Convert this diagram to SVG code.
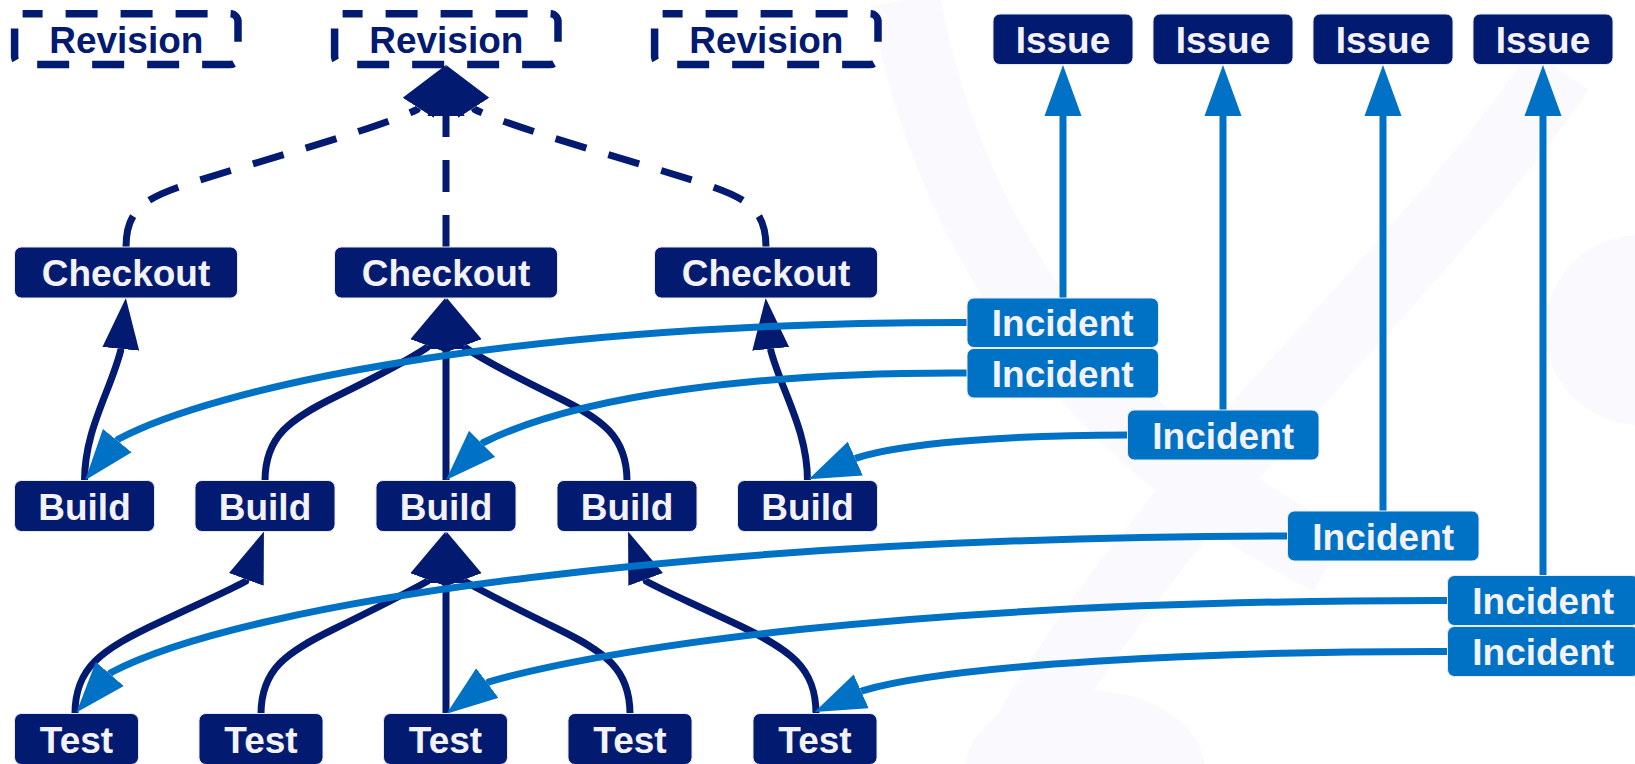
<svg xmlns="http://www.w3.org/2000/svg" width="1635" height="764" viewBox="0 0 1635 764">
<style>
  .nv{fill:#021b71;}
  .bl{fill:#0072c6;}
  .nd{stroke:#e9eaf3;stroke-width:1;}
  .t{font-family:"Liberation Sans",Arial,Helvetica,sans-serif;font-weight:bold;font-size:37px;fill:#f2f2f7;text-anchor:middle;}
  .rt{font-family:"Liberation Sans",Arial,Helvetica,sans-serif;font-weight:bold;font-size:37px;fill:#021b71;text-anchor:middle;}
  .rev{fill:#ffffff;stroke:#021b71;stroke-width:7.5;stroke-dasharray:32 23;stroke-dashoffset:12;}
  .e{fill:none;stroke:#021b71;stroke-width:7;marker-end:url(#ahn);}
  .d{fill:none;stroke:#021b71;stroke-width:7;stroke-dasharray:32 23;marker-end:url(#ahn);}
  .b{fill:none;stroke:#0072c6;stroke-width:7;marker-end:url(#ahb);}
  .wm{fill:none;stroke:#fafafe;stroke-width:70;}
</style>
<defs>
  <marker id="ahn" markerUnits="userSpaceOnUse" markerWidth="52" markerHeight="38" viewBox="0 0 52 38" refX="0" refY="19" orient="auto">
    <path d="M0,0.5 L51,19 L0,37.5 Z" fill="#021b71"/>
  </marker>
  <marker id="ahb" markerUnits="userSpaceOnUse" markerWidth="52" markerHeight="38" viewBox="0 0 52 38" refX="0" refY="19" orient="auto">
    <path d="M0,0.5 L51,19 L0,37.5 Z" fill="#0072c6"/>
  </marker>
</defs>
<rect width="1635" height="764" fill="#ffffff"/>
<g id="watermark">
  <path class="wm" d="M905,0 C950,240 1090,440 1330,560"/>
  <path class="wm" d="M1560,70 C1400,300 1150,500 1010,764"/>
  <circle cx="1640" cy="330" r="95" fill="#fafafe"/>
  <ellipse cx="1085" cy="770" rx="120" ry="80" fill="#fafafe"/>
</g>
<g id="connectors">
  <path class="d" d="M126,247 C126,205 150,196 200,180 S380,128 417.1,109.5 L418.2,107.8"/>
  <path class="d" d="M446,247 L446,116"/>
  <path class="d" d="M766,247 C766,205 742,196 692,180 S512,128 474.9,109.5 L473.8,107.8"/>
  <path class="e" d="M84.5,481 C84.5,430 110,392 120.6,350.8 L120.8,348.8"/>
  <path class="e" d="M265,481 C265,436 290,419 337,396 S410,359 427,347.5 L427.7,345.6"/>
  <path class="e" d="M446,481 L446,349"/>
  <path class="e" d="M627,481 C627,436 602,419 555,396 S482,359 465,347.5 L464.3,345.6"/>
  <path class="e" d="M807.5,481 C807.5,430 782,392 770.9,350.8 L770.7,348.8"/>
  <path class="e" d="M75,714 C75,668 100,650 160,622 S230,590 245.6,581.3 L246.3,579.4"/>
  <path class="e" d="M261,714 C261,669 287,652 334,629 S408,592 427,581.5 L427.7,579.6"/>
  <path class="e" d="M446,714 L446,583"/>
  <path class="e" d="M630,714 C630,669 605,652 558,629 S484,592 465,581.5 L464.3,579.6"/>
  <path class="e" d="M816,714 C816,668 792,650 732,622 S662,590 646.4,581.3 L645.7,579.4"/>
  <path class="b" d="M1063,298 L1063,116"/>
  <path class="b" d="M1223,410 L1223,116"/>
  <path class="b" d="M1383,511 L1383,116"/>
  <path class="b" d="M1543,575.5 L1543,116"/>
  <path class="b" d="M967,322.5 C500,322 210,390 118.6,439 L117.3,440.6"/>
  <path class="b" d="M967,373 C760,372 580,395 483.5,442.5 L482.1,443.9"/>
  <path class="b" d="M1127.5,435 C1000,435 900,444 857.1,457.8 L855.3,458.6"/>
  <path class="b" d="M1287.5,536 C700,537 250,600 111.1,672.5 L109.8,674"/>
  <path class="b" d="M1447.5,600.5 C900,600 600,650 488.9,681.9 L487.3,683.1"/>
  <path class="b" d="M1447.5,651.5 C1200,651 950,665 863,690.6 L861.2,691.4"/>
</g>
<g id="revision1"><rect class="rev" x="14.6" y="13.7" width="223.4" height="50.8" rx="8"/><text class="rt" x="126.3" y="52.5">Revision</text></g>
<g id="revision2"><rect class="rev" x="334.6" y="13.7" width="223.4" height="50.8" rx="8"/><text class="rt" x="446.3" y="52.5">Revision</text></g>
<g id="revision3"><rect class="rev" x="654.6" y="13.7" width="223.4" height="50.8" rx="8"/><text class="rt" x="766.3" y="52.5">Revision</text></g>

<g id="checkout1"><rect class="nv nd" x="14.5" y="247" width="223" height="51" rx="7"/><text class="t" x="126" y="286">Checkout</text></g>
<g id="checkout2"><rect class="nv nd" x="334.5" y="247" width="223" height="51" rx="7"/><text class="t" x="446" y="286">Checkout</text></g>
<g id="checkout3"><rect class="nv nd" x="654.5" y="247" width="223" height="51" rx="7"/><text class="t" x="766" y="286">Checkout</text></g>

<g id="build1"><rect class="nv nd" x="14.5" y="480.5" width="140" height="51" rx="7"/><text class="t" x="84.5" y="519.5">Build</text></g>
<g id="build2"><rect class="nv nd" x="195" y="480.5" width="140" height="51" rx="7"/><text class="t" x="265" y="519.5">Build</text></g>
<g id="build3"><rect class="nv nd" x="376" y="480.5" width="140" height="51" rx="7"/><text class="t" x="446" y="519.5">Build</text></g>
<g id="build4"><rect class="nv nd" x="557" y="480.5" width="140" height="51" rx="7"/><text class="t" x="627" y="519.5">Build</text></g>
<g id="build5"><rect class="nv nd" x="737.5" y="480.5" width="140" height="51" rx="7"/><text class="t" x="807.5" y="519.5">Build</text></g>

<g id="test1"><rect class="nv nd" x="14.5" y="713.5" width="124" height="51" rx="7"/><text class="t" x="76.5" y="752.5">Test</text></g>
<g id="test2"><rect class="nv nd" x="199" y="713.5" width="124" height="51" rx="7"/><text class="t" x="261" y="752.5">Test</text></g>
<g id="test3"><rect class="nv nd" x="383.5" y="713.5" width="124" height="51" rx="7"/><text class="t" x="445.5" y="752.5">Test</text></g>
<g id="test4"><rect class="nv nd" x="568" y="713.5" width="124" height="51" rx="7"/><text class="t" x="630" y="752.5">Test</text></g>
<g id="test5"><rect class="nv nd" x="753" y="713.5" width="124" height="51" rx="7"/><text class="t" x="815" y="752.5">Test</text></g>

<g id="issue1"><rect class="nv nd" x="993" y="14" width="140" height="50.5" rx="7"/><text class="t" x="1063" y="52.5">Issue</text></g>
<g id="issue2"><rect class="nv nd" x="1153" y="14" width="140" height="50.5" rx="7"/><text class="t" x="1223" y="52.5">Issue</text></g>
<g id="issue3"><rect class="nv nd" x="1313" y="14" width="140" height="50.5" rx="7"/><text class="t" x="1383" y="52.5">Issue</text></g>
<g id="issue4"><rect class="nv nd" x="1473" y="14" width="140" height="50.5" rx="7"/><text class="t" x="1543" y="52.5">Issue</text></g>

<g id="incident1"><rect class="bl nd" x="967" y="298" width="191.5" height="49.5" rx="7"/><text class="t" x="1062.7" y="336">Incident</text></g>
<g id="incident2"><rect class="bl nd" x="967" y="348.5" width="191.5" height="49.5" rx="7"/><text class="t" x="1062.7" y="386.5">Incident</text></g>
<g id="incident3"><rect class="bl nd" x="1127.5" y="410" width="191.5" height="50" rx="7"/><text class="t" x="1223.2" y="448.5">Incident</text></g>
<g id="incident4"><rect class="bl nd" x="1287.5" y="511" width="191.5" height="50" rx="7"/><text class="t" x="1383.2" y="549.5">Incident</text></g>
<g id="incident5"><rect class="bl nd" x="1447.5" y="575.5" width="191.5" height="50" rx="7"/><text class="t" x="1543.2" y="614">Incident</text></g>
<g id="incident6"><rect class="bl nd" x="1447.5" y="626.5" width="191.5" height="50" rx="7"/><text class="t" x="1543.2" y="665">Incident</text></g>
</svg>
